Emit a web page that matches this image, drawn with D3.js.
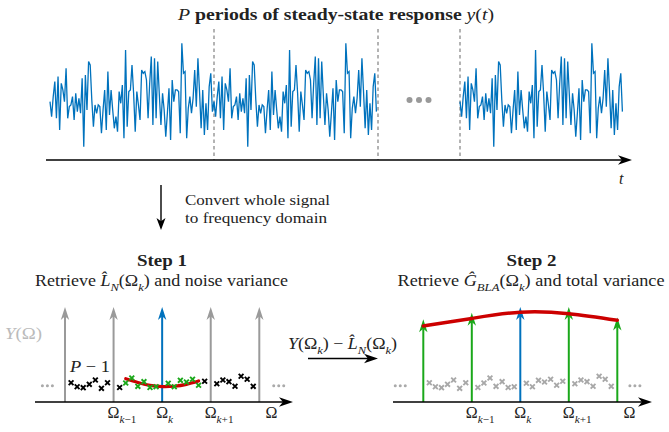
<!DOCTYPE html>
<html><head><meta charset="utf-8">
<script src="https://cdn.jsdelivr.net/npm/d3@7"></script>
<style>
body{margin:0;background:#fff}
svg{display:block}
text{font-family:"Liberation Serif","Times New Roman",serif;fill:#222}
</style>
</head><body>
<svg id="c" width="669" height="432"></svg>
<script>
// ---------- DATA ----------
// one period of the steady-state response y(t) (arbitrary units)
const signalPeriod = [5,-40,20,65,-45,80,-80,60,40,5,105,-45,-10,-5,20,-50,30,-25,15,-30,
  75,-130,85,-20,125,115,10,-70,-5,-30,-5,-10,-90,-20,40,-80,95,-35,40,-20,
  -75,-40,-85,35,0,55,-105,160,-70,35,
  40,115,30,-85,35,-5,-50,100,90,95,70,-45,60,140,-65,135,-45,125,25,-65,
  30,-20,-100,-30,45,-110,70,5,40,40,35,-90,180,90,95,-105,-15,20,-30,15,
  100,-10,135,35,-75,40,-95,0,-80,50,90,-25];
const periodSlots = [0, 1, 2.5];        // where each drawn period starts (in periods)
const periodMarks = [1, 2, 2.5];        // dashed period boundaries
const gapCenter = 2.25;                 // "..." between periods

// frequency-domain picture (bins)
const excitedBins = [0, 8, 16, 24, 32];
const excitedCenter = 16;
const leftExcitedValues = [1, 1, 1, 1, 1];
const omegaLabels = [{bin: 8, sub: "k\u22121"}, {bin: 16, sub: "k"}, {bin: 24, sub: "k+1"}, {bin: 34, sub: ""}];
const noiseBins = [1,2,3,4,5,6,7, 9,10,11,12,13,14,15, 17,18,19,20,21,22,23, 25,26,27,28,29,30,31];
const noiseValues = [0.203,0.161,0.151,0.186,0.232,0.144,0.203,
  0.153,0.200,0.253,0.165,0.214,0.153,0.160,
  0.197,0.161,0.228,0.211,0.239,0.176,0.218,
  0.192,0.232,0.214,0.166,0.271,0.240,0.165];
const localBins = [10,11,12,13,14,15,17,18,19,20,21,22];  // local polynomial window (green)
const lpmBins = [10, 12, 14, 16, 18, 20, 22];
const lpmValues = [0.245, 0.205, 0.175, 0.162, 0.166, 0.186, 0.222];
const rightArrowValues = [0.87, 0.94, 1.0, 1.0, 0.89];
const blaValues = [0.80, 0.88, 0.945, 0.93, 0.86];

// ---------- DRAW ----------
const svg = d3.select("#c");
const BLUE = "#0072bd", GREY = "#9a9a9a", GREEN = "#1aa81a", RED = "#cc0000";

function rich(g, x, y, anchor, size, parts, width) {
  const t = g.append("text").attr("x", x).attr("y", y).attr("text-anchor", anchor).attr("font-size", size);
  if (width) t.attr("textLength", width).attr("lengthAdjust", "spacingAndGlyphs");
  let shift = 0;
  parts.forEach(p => {
    const s = t.append("tspan").text(p.t);
    if (p.i) s.attr("font-style", "italic");
    if (p.b) s.attr("font-weight", "bold");
    const want = p.sub ? size * 0.3 : 0;
    if (want !== shift) { s.attr("dy", want - shift); shift = want; }
    if (p.sub) s.attr("font-size", size * 0.7);
    if (p.fill) s.style("fill", p.fill);
  });
  return t;
}
function headUp(g, x, y, color, L = 13, W = 4.2) {
  g.append("path").attr("d", `M${x},${y} L${x - W},${y + L} L${x},${y + L * 0.72} L${x + W},${y + L} Z`).attr("fill", color);
}
function headRight(g, x, y, color, L = 13, W = 4.5) {
  g.append("path").attr("d", `M${x},${y} L${x - L},${y - W} L${x - L * 0.72},${y} L${x - L},${y + W} Z`).attr("fill", color);
}
function headDown(g, x, y, color, L = 13, W = 4.5) {
  g.append("path").attr("d", `M${x},${y} L${x - W},${y - L} L${x},${y - L * 0.72} L${x + W},${y - L} Z`).attr("fill", color);
}
function dots(g, cx, cy, r, gap, color) {
  [-1, 0, 1].forEach(k => g.append("circle").attr("cx", cx + k * gap).attr("cy", cy).attr("r", r).attr("fill", color));
}

// ---- Time domain ----
const xt = d3.scaleLinear().domain([0, 1]).range([50, 214]);
const ys = d3.scaleLinear().domain([-180, 180]).range([163.3, 43.3]);
const N = signalPeriod.length;
const topG = svg.append("g");

rich(topG, 336, 20, "middle", 16, [
  {t: "P", i: true}, {t: " periods of steady-state response ", b: true}, {t: "y", i: true}, {t: "("}, {t: "t", i: true}, {t: ")"}], 316);

periodMarks.forEach(m => topG.append("line").attr("x1", xt(m)).attr("x2", xt(m)).attr("y1", 29).attr("y2", 160)
  .attr("stroke", GREY).attr("stroke-width", 1.5).attr("stroke-dasharray", "3.5,3"));

// build continuous runs of adjacent periods
const runs = [];
periodSlots.forEach(s => {
  const last = runs[runs.length - 1];
  if (last && Math.abs(last.end - s) < 1e-9) last.end = s + 1; else runs.push({start: s, end: s + 1});
});
const line = d3.line().x(d => xt(d[0])).y(d => ys(d[1]));
runs.forEach(r => {
  const pts = [];
  for (let p = r.start; p < r.end - 1e-9; p += 1) signalPeriod.forEach((v, i) => pts.push([p + i / N, v]));
  topG.append("path").attr("d", line(pts)).attr("fill", "none").attr("stroke", BLUE).attr("stroke-width", 1.3);
});
dots(topG, xt(gapCenter), 100, 3, 9.5, "#999");

topG.append("line").attr("x1", 46).attr("x2", 624).attr("y1", 160).attr("y2", 160).attr("stroke", "#000").attr("stroke-width", 1.6);
headRight(topG, 632, 160, "#000", 14, 4.8);
rich(topG, 619, 184, "start", 16, [{t: "t", i: true}]);

// convert arrow
topG.append("line").attr("x1", 161).attr("x2", 161).attr("y1", 185).attr("y2", 222).attr("stroke", "#000").attr("stroke-width", 1.4);
headDown(topG, 161, 230, "#000", 12, 4.5);
rich(topG, 185, 205, "start", 15.5, [{t: "Convert whole signal"}], 145);
rich(topG, 185, 223, "start", 15.5, [{t: "to frequency domain"}], 142);

// ---- frequency panels ----
const yv = d3.scaleLinear().domain([0, 1]).range([402, 307]);
function panel(x0, x32) {
  return d3.scaleLinear().domain([0, 32]).range([x0, x32]);
}
function cross(g, x, y, color) {
  const s = 2.4;
  g.append("path").attr("d", `M${x - s},${y - s}L${x + s},${y + s}M${x - s},${y + s}L${x + s},${y - s}`)
    .attr("stroke", color).attr("stroke-width", 1.9).attr("fill", "none");
}
function omegaAxis(g, xs, xStart, xTip) {
  g.append("line").attr("x1", xStart).attr("x2", xTip - 8).attr("y1", yv(0)).attr("y2", yv(0)).attr("stroke", "#000").attr("stroke-width", 1.6);
  headRight(g, xTip, yv(0), "#000", 14, 4.8);
  omegaLabels.forEach(o => {
    const parts = [{t: "\u03a9"}];
    if (o.sub === "k") parts.push({t: "k", sub: true, i: true});
    else if (o.sub) { parts.push({t: "k", sub: true, i: true}); parts.push({t: o.sub.slice(1), sub: true}); }
    rich(g, xs(o.bin) - 6, 418, "start", 16, parts);
  });
}

// Step 1
const Lg = svg.append("g");
const xl = panel(65, 259.3);
rich(Lg, 162, 266, "middle", 16, [{t: "Step 1", b: true}], 50);
rich(Lg, 161.5, 286, "middle", 16, [{t: "Retrieve "}, {t: "L\u0302", i: true}, {t: "N", i: true, sub: true}, {t: "(\u03a9"},
  {t: "k", i: true, sub: true}, {t: ") and noise variance"}], 253);
rich(Lg, 5, 339, "start", 16, [{t: "Y", i: true, fill: "#bbb"}, {t: "(\u03a9)", fill: "#bbb"}], 37);
rich(Lg, 70, 372, "start", 16, [{t: "P", i: true}, {t: " \u2212 1"}], 40);
excitedBins.forEach((b, i) => {
  const c = b === excitedCenter ? BLUE : GREY;
  Lg.append("line").attr("x1", xl(b)).attr("x2", xl(b)).attr("y1", yv(0)).attr("y2", yv(leftExcitedValues[i]) + 9).attr("stroke", c).attr("stroke-width", 2);
  headUp(Lg, xl(b), yv(leftExcitedValues[i]), c);
});
Lg.append("path").attr("d", d3.line().curve(d3.curveNatural).x((d, i) => xl(lpmBins[i])).y(d => yv(d))(lpmValues))
  .attr("fill", "none").attr("stroke", RED).attr("stroke-width", 3.2).attr("stroke-linecap", "round");
noiseBins.forEach((b, i) => cross(Lg, xl(b), yv(noiseValues[i]), localBins.includes(b) ? GREEN : "#000"));
dots(Lg, xl(-2.9), yv(noiseValues[0]) + 3, 1.5, 5, "#aaa");
dots(Lg, xl(35.2), yv(noiseValues[0]) + 3, 1.5, 5, "#aaa");
omegaAxis(Lg, xl, 35, 293);

// middle arrow
rich(svg, 288, 349, "start", 16, [{t: "Y", i: true}, {t: "(\u03a9"}, {t: "k", i: true, sub: true}, {t: ") \u2212 "},
  {t: "L\u0302", i: true}, {t: "N", i: true, sub: true}, {t: "(\u03a9"}, {t: "k", i: true, sub: true}, {t: ")"}], 109);
svg.append("line").attr("x1", 308).attr("x2", 370).attr("y1", 358.5).attr("y2", 358.5).attr("stroke", "#000").attr("stroke-width", 1.6);
headRight(svg, 378, 358.5, "#000", 14, 4.8);

// Step 2
const Rg = svg.append("g");
const xr = panel(423.3, 617.3);
rich(Rg, 531.5, 266, "middle", 16, [{t: "Step 2", b: true}], 50);
rich(Rg, 531, 286, "middle", 16, [{t: "Retrieve "}, {t: "\u011c", i: true}, {t: "BLA", i: true, sub: true}, {t: "(\u03a9"},
  {t: "k", i: true, sub: true}, {t: ") and total variance"}], 267);
noiseBins.forEach((b, i) => cross(Rg, xr(b), yv(noiseValues[i]), "#a8a8a8"));
excitedBins.forEach((b, i) => {
  const c = b === excitedCenter ? BLUE : GREEN;
  Rg.append("line").attr("x1", xr(b)).attr("x2", xr(b)).attr("y1", yv(0)).attr("y2", yv(rightArrowValues[i]) + 9).attr("stroke", c).attr("stroke-width", 2);
  headUp(Rg, xr(b), yv(rightArrowValues[i]), c);
});
Rg.append("path").attr("d", d3.line().curve(d3.curveNatural).x((d, i) => xr(excitedBins[i])).y(d => yv(d))(blaValues))
  .attr("fill", "none").attr("stroke", RED).attr("stroke-width", 3.5).attr("stroke-linecap", "round");
dots(Rg, xr(-3.8), yv(noiseValues[0]) + 3, 1.5, 5, "#aaa");
dots(Rg, xr(34.9), yv(noiseValues[0]) + 3, 1.5, 5, "#aaa");
omegaAxis(Rg, xr, 393, 652);
</script>
</body></html>
